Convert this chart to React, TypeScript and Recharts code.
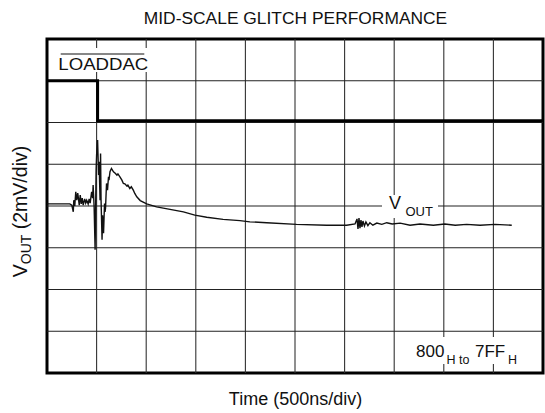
import React from "react";
import { LineChart, Line, XAxis, YAxis, ReferenceLine, ReferenceArea } from "recharts";

// Time in divisions (500ns/div), voltage in divisions (2mV/div) relative to center line
const voutTime = [
  0, 0.26, 0.46, 0.5, 0.53, 0.54, 0.56, 0.58, 0.6, 0.62, 0.65, 0.67, 0.69, 0.71, 0.73, 0.76, 0.78, 0.8,
  0.83, 0.85, 0.87, 0.9, 0.92, 0.93, 0.95, 0.97, 0.99, 1.0, 1.02, 1.04, 1.05, 1.07, 1.08, 1.09, 1.11,
  1.12, 1.14, 1.16, 1.17, 1.18, 1.2, 1.22, 1.24, 1.25, 1.27, 1.3, 1.34, 1.37, 1.41, 1.43, 1.47, 1.51,
  1.54, 1.57, 1.61, 1.63, 1.67, 1.7, 1.74, 1.77, 1.81, 1.88, 2.01, 2.21, 2.48, 2.75, 2.98, 3.22, 3.55,
  3.89, 4.09, 4.43, 5.03, 5.64, 6.04, 6.21, 6.25, 6.27, 6.29, 6.31, 6.33, 6.35, 6.37, 6.4, 6.43, 6.47,
  6.51, 6.57, 6.65, 6.75, 6.85, 6.96, 7.12, 7.32, 7.52, 7.79, 8.02, 8.23, 8.46, 8.73, 9.03, 9.37,
];
const voutValue = [
  0.05, 0.05, 0.05, 0.02, -0.14, 0.14, 0, 0.34, 0.14, 0.31, 0.02, 0.26, 0.05, 0.19, 0.02, 0.17, 0.07, 0.14,
  0.05, 0.17, 0.07, 0.34, 0.19, 0.5, -0.02, -1.05, 0.86, 1.22, 1.58, 0.74, 1.06, 0.14, 1.26, 0.14, -0.81,
  -0.22, -0.65, 0.06, -0.14, -0.05, 0.54, 0.38, 0.7, 0.62, 0.82, 0.9, 0.82, 0.79, 0.74, 0.77, 0.7, 0.62,
  0.54, 0.53, 0.48, 0.5, 0.42, 0.46, 0.38, 0.3, 0.22, 0.13, 0.05, -0.02, -0.08, -0.14, -0.22, -0.27, -0.32,
  -0.35, -0.38, -0.4, -0.44, -0.46, -0.46, -0.43, -0.31, -0.55, -0.29, -0.53, -0.34, -0.5, -0.36, -0.48, -0.38, -0.47,
  -0.4, -0.46, -0.41, -0.44, -0.4, -0.43, -0.41, -0.46, -0.43, -0.46, -0.43, -0.46, -0.44, -0.46, -0.44, -0.46,
];
const loaddacTime = [0, 1.02, 1.02, 10];
const loaddacLevel = [3.0, 3.0, 2.04, 2.04];

const verticalGrid = [1, 2, 3, 4, 5, 6, 7, 8, 9];
const horizontalGrid = [-3, -2, -1, 0, 1, 2, 3];

const voutData = voutTime.map((t, i) => ({ t, v: voutValue[i] }));
const loaddacData = loaddacTime.map((t, i) => ({ t, v: loaddacLevel[i] }));

const FONT = "'Liberation Sans', Arial, Helvetica, sans-serif";

export default function App() {
  return (
    <div style={{ position: "absolute", left: 0, top: 0, width: 545, height: 413, background: "#fff" }}>
      <LineChart width={545} height={413} margin={{ top: 39, right: 2, bottom: 40, left: 47 }}>
        <XAxis type="number" dataKey="t" domain={[0, 10]} hide allowDataOverflow />
        <YAxis type="number" dataKey="v" domain={[-4, 4]} hide allowDataOverflow />
        {verticalGrid.map((x) => (
          <ReferenceLine key={"vx" + x} x={x} stroke="#333" strokeWidth={1.1} />
        ))}
        {horizontalGrid.map((y) => (
          <ReferenceLine key={"hy" + y} y={y} stroke="#222" strokeWidth={1.1} />
        ))}
        <Line
          data={loaddacData}
          dataKey="v"
          type="linear"
          stroke="#000"
          strokeWidth={3}
          dot={false}
          isAnimationActive={false}
          strokeLinejoin="miter"
        />
        <Line
          data={voutData}
          dataKey="v"
          type="linear"
          stroke="#111"
          strokeWidth={1.4}
          dot={false}
          isAnimationActive={false}
        />
        <ReferenceArea x1={0} x2={10} y1={-4} y2={4} fill="none" stroke="#000" strokeWidth={3} ifOverflow="visible" />
      </LineChart>
      <svg
        width={545}
        height={413}
        style={{ position: "absolute", left: 0, top: 0, pointerEvents: "none" }}
        fontFamily={FONT}
      >
        <text x={295.5} y={24} textAnchor="middle" fontSize={17.4} fill="#111">
          MID-SCALE GLITCH PERFORMANCE
        </text>
        <text x={295.5} y={405} textAnchor="middle" fontSize={18} fill="#111">
          Time (500ns/div)
        </text>
        <text transform="translate(27,211.5) rotate(-90)" textAnchor="middle" fontSize={19.5} fill="#111">
          V
          <tspan fontSize={14} dy={4}>OUT</tspan>
          <tspan fontSize={19.5} dy={-4}> (2mV/div)</tspan>
        </text>
        <rect x={55} y={48} width={96} height={24} fill="#fff" />
        <line x1={60.7} y1={54} x2={144.3} y2={54} stroke="#111" strokeWidth={1.2} />
        <text x={58.3} y={70} fontSize={17} fill="#111" textLength={90} lengthAdjust="spacingAndGlyphs">
          LOADDAC
        </text>
        <rect x={382} y={195} width={56} height={23} fill="#fff" />
        <text y={209.3} fill="#111">
          <tspan x={389} fontSize={18}>V</tspan>
          <tspan x={405.5} y={216} fontSize={13}>OUT</tspan>
        </text>
        <rect x={412} y={337} width={108} height={27} fill="#fff" />
        <text fill="#111">
          <tspan x={416} y={357.3} fontSize={17}>800</tspan>
          <tspan x={446.5} y={364} fontSize={12.5}>H</tspan>
          <tspan x={459} y={364} fontSize={12.5}>to</tspan>
          <tspan x={475} y={357.3} fontSize={17}>7FF</tspan>
          <tspan x={508} y={364} fontSize={12.5}>H</tspan>
        </text>
      </svg>
    </div>
  );
}
